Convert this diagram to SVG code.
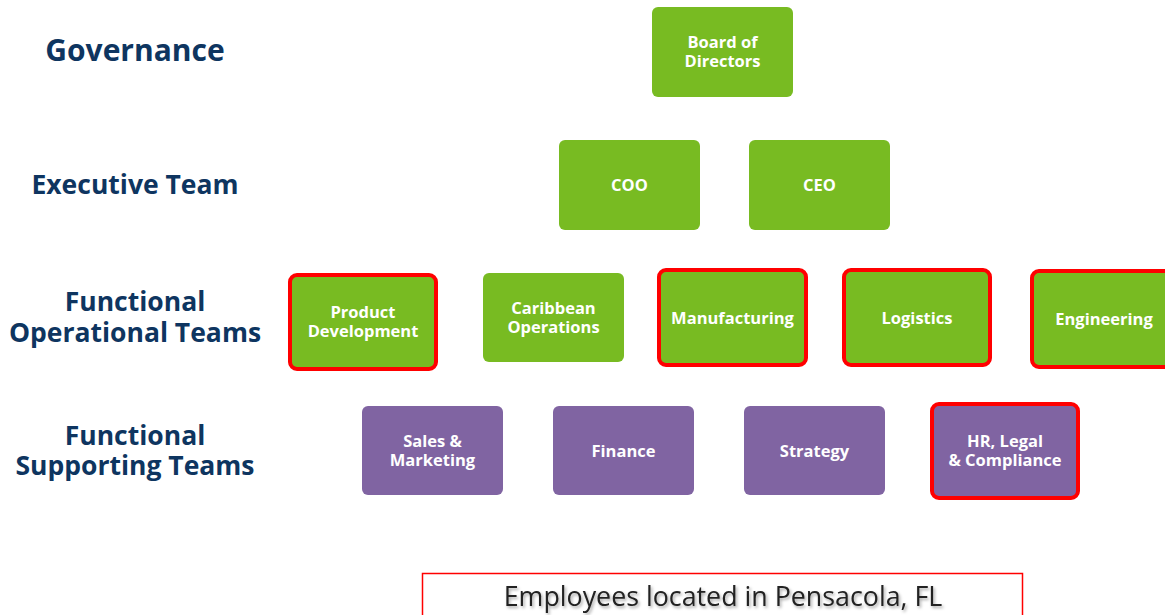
<svg xmlns="http://www.w3.org/2000/svg" width="1165" height="615" viewBox="0 0 1165 615">
<defs>
<style>
.lbl{font-family:"Open Sans","Noto Sans","Liberation Sans",sans-serif;font-weight:700;font-size:26.5px;fill:#0E3560;text-anchor:middle}
.g{fill:#78BB22}
.p{fill:#8064A2}
.hl{stroke:#FF0000;stroke-width:4}
.t{font-family:"Open Sans","Noto Sans","Liberation Sans",sans-serif;font-weight:700;font-size:16.5px;fill:#FFFFFF;text-anchor:middle}
.foot{font-family:"Open Sans","Noto Sans","Liberation Sans",sans-serif;font-size:26.8px;fill:#222222;text-anchor:middle}
</style>
<filter id="sh" x="-10%" y="-50%" width="120%" height="200%">
<feDropShadow dx="1.5" dy="2" stdDeviation="1.5" flood-color="#000" flood-opacity="0.35"/>
</filter>
</defs>
<rect width="1165" height="615" fill="#FFFFFF"/>
<g id="levels">
<text class="lbl" x="135" y="61" style="font-size:30px">Governance</text>
<text class="lbl" x="135" y="194">Executive Team</text>
<text class="lbl" x="135" y="311">Functional</text>
<text class="lbl" x="135" y="342">Operational Teams</text>
<text class="lbl" x="135" y="445">Functional</text>
<text class="lbl" x="135" y="475">Supporting Teams</text>
</g>
<g id="connectors"></g>
<g id="board"><rect class="g" x="652" y="7" width="141" height="90" rx="6"/><text class="t" x="722.5" y="48">Board of</text><text class="t" x="722.5" y="67">Directors</text></g>
<g id="coo"><rect class="g" x="559" y="140" width="141" height="90" rx="6"/><text class="t" x="629.5" y="191">COO</text></g>
<g id="ceo"><rect class="g" x="749" y="140" width="141" height="90" rx="6"/><text class="t" x="819.5" y="191">CEO</text></g>
<g id="product-development"><rect class="g hl" x="290" y="275" width="146" height="94" rx="7"/><text class="t" x="363" y="318">Product</text><text class="t" x="363" y="337">Development</text></g>
<g id="caribbean-operations"><rect class="g" x="483" y="273" width="141" height="89" rx="6"/><text class="t" x="553.5" y="314">Caribbean</text><text class="t" x="553.5" y="333">Operations</text></g>
<g id="manufacturing"><rect class="g hl" x="659" y="270" width="147" height="95" rx="7"/><text class="t" x="732.5" y="324">Manufacturing</text></g>
<g id="logistics"><rect class="g hl" x="844" y="270" width="146" height="95" rx="7"/><text class="t" x="917" y="324">Logistics</text></g>
<g id="engineering"><rect class="g hl" x="1032" y="271" width="146" height="96" rx="7"/><text class="t" x="1104" y="325">Engineering</text></g>
<g id="sales-marketing"><rect class="p" x="362" y="406" width="141" height="89" rx="6"/><text class="t" x="432.5" y="447">Sales &amp;</text><text class="t" x="432.5" y="466">Marketing</text></g>
<g id="finance"><rect class="p" x="553" y="406" width="141" height="89" rx="6"/><text class="t" x="623.5" y="457">Finance</text></g>
<g id="strategy"><rect class="p" x="744" y="406" width="141" height="89" rx="6"/><text class="t" x="814.5" y="457">Strategy</text></g>
<g id="hr-legal-compliance"><rect class="p hl" x="932" y="404" width="146" height="94" rx="7"/><text class="t" x="1005" y="447">HR, Legal</text><text class="t" x="1005" y="466">&amp; Compliance</text></g>
<g id="footer"><rect x="422.5" y="573.5" width="600" height="60" fill="#FFFFFF" stroke="#FF0000" stroke-width="1.5"/><text class="foot" x="723" y="606" filter="url(#sh)">Employees located in Pensacola, FL</text></g>
</svg>
